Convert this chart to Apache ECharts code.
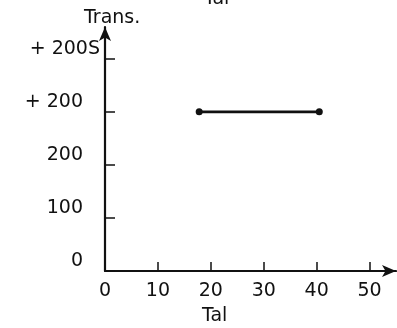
<!DOCTYPE html>
<html>
<head>
<meta charset="utf-8">
<script src="https://cdn.jsdelivr.net/npm/echarts@6/dist/echarts.min.js"></script>
<style>
  html, body { margin: 0; padding: 0; background: #fff; }
  #chart { width: 397px; height: 328px; }
</style>
</head>
<body>
<div id="chart"></div>
<script>
// Ordinal levels on the vertical axis, bottom to top
const yLevels = ['0', '100', '200', '+ 200', '+ 200S'];
// Tick values on the horizontal "Tal" axis
const xTicks = [0, 10, 20, 30, 40, 50];
// The segment: start and end on the Tal axis, held at one level
const segTal = [17.8, 40.5];
const segLevel = ['+ 200', '+ 200'];

const FONT = 'DejaVu Sans';
const INK = '#111';
const FS = 19;

const chart = echarts.init(document.getElementById('chart'), null, { renderer: 'canvas' });

const points = segTal.map((t, i) => [t, yLevels.indexOf(segLevel[i])]);

chart.setOption({
  animation: false,
  backgroundColor: '#ffffff',
  title: [
    { text: 'Trans.', left: 79, top: 4,
      textStyle: { fontFamily: FONT, fontSize: FS, fontWeight: 'normal', color: INK } },
    { text: 'Tal', left: 197, top: 302,
      textStyle: { fontFamily: FONT, fontSize: FS, fontWeight: 'normal', color: INK } },
    { text: 'Tal', left: 199, top: -15,
      textStyle: { fontFamily: FONT, fontSize: FS, fontWeight: 'normal', color: INK } }
  ],
  grid: { left: 105, right: 1, top: 27, bottom: 57, containLabel: false },
  xAxis: {
    type: 'value',
    min: 0,
    max: 55,
    interval: 10,
    splitLine: { show: false },
    axisLine: { show: true, lineStyle: { color: INK, width: 2.2 },
      symbol: ['none', 'arrow'], symbolSize: [9, 14] },
    axisTick: { show: true, inside: true, length: 9, customValues: xTicks,
      lineStyle: { color: INK, width: 1.5 } },
    axisLabel: { customValues: xTicks, margin: 11, fontFamily: FONT, fontSize: FS, color: INK }
  },
  yAxis: {
    type: 'value',
    min: 0,
    max: 4.6,
    interval: 1,
    splitLine: { show: false },
    axisLine: { show: true, lineStyle: { color: INK, width: 2.2 },
      symbol: ['none', 'arrow'], symbolSize: [9, 14] },
    axisTick: { show: true, inside: true, length: 10, customValues: [0, 1, 2, 3, 4],
      lineStyle: { color: INK, width: 1.5 } },
    axisLabel: {
      customValues: [0, 1, 2, 3, 4],
      margin: 5,
      padding: [0, 0, 20, 0],
      formatter: (v) => {
        const s = yLevels[Math.round(v)];
        return s.endsWith('S') ? '{s|' + s + '}' : '{n|' + s + '}';
      },
      rich: {
        n: { fontFamily: FONT, fontSize: FS, color: INK, padding: [0, 17, 0, 0] },
        s: { fontFamily: FONT, fontSize: FS, color: INK }
      }
    }
  },
  series: [{
    type: 'line',
    data: points,
    symbol: 'circle',
    symbolSize: 7,
    lineStyle: { color: INK, width: 2.6 },
    itemStyle: { color: INK }
  }]
});
</script>
</body>
</html>
